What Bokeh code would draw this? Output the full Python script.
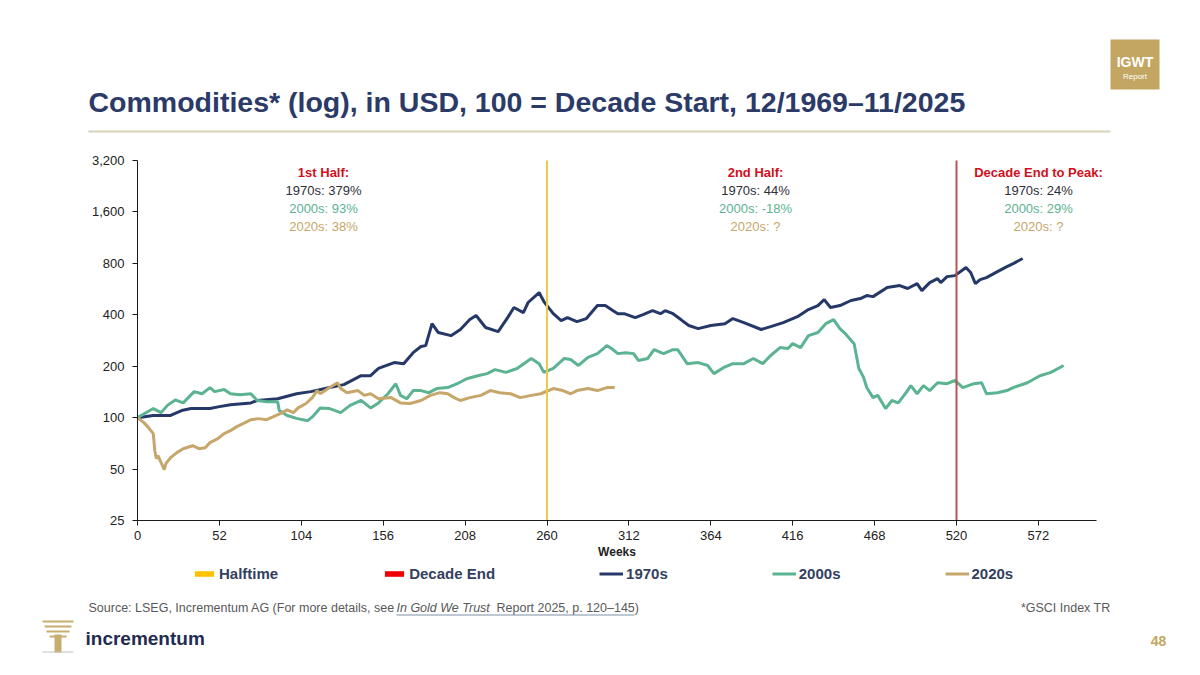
from bokeh.plotting import figure
from bokeh.models import Label, BoxAnnotation, Legend, LegendItem, FixedTicker, Range1d
from bokeh.embed import file_html
from bokeh.resources import INLINE

# ---------------- data ----------------
weeks_1970s = [0, 10, 21, 28, 34, 46, 52, 59, 72, 76,
               89, 101, 110, 122, 131, 142, 148, 153, 156, 163,
               169, 175, 180, 183, 187, 191, 199, 205, 211, 215,
               221, 229, 235, 239, 245, 248, 255, 258, 264, 269,
               273, 279, 285, 292, 297, 302, 305, 309, 316, 321,
               327, 332, 335, 340, 345, 350, 356, 364, 373, 378,
               385, 396, 402, 410, 419, 426, 432, 436, 440, 446,
               453, 459, 463, 467, 476, 484, 489, 495, 498, 503,
               508, 510, 514, 519, 526, 529, 532, 535, 539, 546,
               552, 556, 562]
vals_1970s = [100, 103, 103, 110, 113, 113, 116, 119, 122, 126,
              129, 138, 142, 150, 156, 176, 176, 194, 199, 210,
              207, 240, 261, 264, 355, 315, 302, 328, 375, 396,
              337, 319, 385, 441, 412, 472, 540, 478, 406, 370,
              385, 365, 380, 453, 453, 423, 406, 406, 385, 401,
              423, 406, 423, 406, 375, 346, 332, 346, 355, 380,
              360, 328, 341, 360, 390, 429, 453, 491, 441, 453,
              485, 498, 518, 511, 577, 593, 570, 609, 554, 617,
              651, 617, 669, 678, 756, 707, 609, 642, 660, 716,
              766, 797, 854]

weeks_2000s = [0, 4, 10, 15, 19, 24, 29, 36, 41, 46,
               49, 55, 59, 65, 72, 76, 82, 89, 90, 95,
               101, 108, 111, 116, 122, 129, 135, 142, 148, 153,
               159, 164, 167, 171, 175, 180, 185, 190, 197, 203,
               209, 216, 222, 227, 234, 241, 250, 255, 258, 264,
               271, 275, 280, 286, 292, 298, 301, 305, 310, 315,
               318, 324, 328, 334, 340, 343, 349, 356, 362, 366,
               372, 378, 385, 391, 397, 402, 408, 413, 416, 421,
               426, 432, 437, 442, 446, 450, 455, 458, 461, 463,
               467, 470, 475, 479, 483, 488, 491, 495, 499, 503,
               508, 514, 519, 524, 531, 536, 539, 546, 552, 556,
               565, 573, 580, 588]
vals_2000s = [100, 105, 113, 107, 118, 127, 122, 142, 138, 150,
              142, 146, 138, 136, 138, 126, 124, 124, 110, 103,
              99, 96, 101, 114, 113, 107, 118, 126, 114, 122,
              138, 158, 135, 129, 144, 144, 140, 148, 150, 158,
              169, 176, 181, 191, 184, 194, 222, 207, 184, 194,
              222, 219, 202, 225, 237, 264, 254, 237, 240, 237,
              216, 222, 250, 237, 250, 250, 207, 210, 202, 181,
              196, 207, 207, 222, 207, 231, 257, 254, 271, 257,
              302, 315, 355, 375, 332, 306, 271, 194, 172, 150,
              131, 135, 113, 126, 122, 140, 154, 138, 154, 144,
              160, 158, 165, 150, 158, 160, 138, 140, 144, 150,
              160, 176, 184, 202]

weeks_2020s = [0, 4, 7, 10, 11, 12, 13, 15, 17, 18,
               21, 25, 29, 35, 39, 43, 46, 51, 55, 59,
               63, 67, 72, 77, 82, 86, 92, 95, 99, 102,
               107, 111, 114, 116, 121, 127, 129, 133, 140, 144,
               148, 153, 161, 167, 173, 180, 186, 192, 197, 201,
               205, 211, 218, 224, 230, 237, 243, 250, 256, 264,
               270, 275, 279, 286, 292, 298, 303]
vals_2020s = [100, 93.5, 87.4, 80.6, 64, 57.5, 60, 54.5, 49.6, 53.8,
              58.3, 62.4, 65.8, 68.5, 65.8, 66.7, 71.4, 75.3, 80.6, 83.9,
              88.6, 92.2, 97.3, 98.7, 97.3, 101, 107, 111, 107, 114,
              121, 131, 144, 138, 148, 160, 148, 140, 144, 135,
              138, 129, 131, 122, 121, 126, 135, 140, 138, 131,
              126, 131, 135, 144, 140, 138, 131, 135, 138, 148,
              144, 138, 144, 148, 144, 150, 150]

halftime_week = 260
decade_end_week = 520
x_axis_end = 609

x_ticks = [0, 52, 104, 156, 208, 260, 312, 364, 416, 468, 520, 572]
y_ticks = [25, 50, 100, 200, 400, 800, 1600, 3200]
y_tick_labels = ["25", "50", "100", "200", "400", "800", "1,600", "3,200"]

series_names = ["1970s", "2000s", "2020s"]
first_half = ["1970s: 379%", "2000s: 93%", "2020s: 38%"]
second_half = ["1970s: 44%", "2000s: -18%", "2020s: ?"]
end_to_peak = ["1970s: 24%", "2000s: 29%", "2020s: ?"]

# ---------------- layout geometry (page pixels) ----------------
W, H = 1184, 659
PLOT_L, PLOT_T, PLOT_B = 137, 160, 520          # axis origin / top / bottom in page px
PX_PER_WEEK = 1.575
PX_PER_OCTAVE = (PLOT_B - PLOT_T) / 7.0

FONT = "Liberation Sans"
NAVY = "#253867"
GREEN = "#5BB391"
TAN = "#C6A66A"
TEXT_DARK = "#2F2F38"
RED_TXT = "#D0101C"
GOLD = "#C3A661"

x_start = -PLOT_L / PX_PER_WEEK
x_end = (W - PLOT_L) / PX_PER_WEEK
y_start = y_ticks[0] / 2 ** ((H - PLOT_B) / PX_PER_OCTAVE)
y_end = y_ticks[-1] * 2 ** (PLOT_T / PX_PER_OCTAVE)

p = figure(width=W, height=H, y_axis_type="log",
           x_range=Range1d(x_start, x_end), y_range=Range1d(y_start, y_end),
           output_backend="svg", toolbar_location=None, min_border=0)
p.outline_line_color = None
p.xgrid.visible = False
p.ygrid.visible = False
p.background_fill_color = "white"
p.border_fill_color = "white"

for ax in (p.xaxis[0], p.yaxis[0]):
    ax.axis_line_color = "#1A1A1A"
    ax.axis_line_width = 1
    ax.major_tick_line_color = "#1A1A1A"
    ax.major_tick_in = 0
    ax.major_tick_out = 5
    ax.minor_tick_line_color = None
    ax.major_label_text_font = FONT
    ax.major_label_text_font_size = "13px"
    ax.major_label_text_color = "#222222"

p.xaxis.fixed_location = y_ticks[0]
p.xaxis.bounds = (0, x_axis_end)
p.xaxis.ticker = FixedTicker(ticks=x_ticks)
p.xaxis.axis_label = "Weeks"
p.xaxis.axis_label_text_font = FONT
p.xaxis.axis_label_text_font_size = "12px"
p.xaxis.axis_label_text_font_style = "bold"
p.xaxis.axis_label_text_color = "#222222"
p.xaxis.axis_label_standoff = 2
p.xaxis.major_label_standoff = 5

p.yaxis.fixed_location = 0
p.yaxis.bounds = (y_ticks[0], y_ticks[-1])
p.yaxis.ticker = FixedTicker(ticks=y_ticks)
p.yaxis.major_label_overrides = {t: l for t, l in zip(y_ticks, y_tick_labels)}
p.yaxis.major_label_standoff = 8

# series
r70 = p.line(weeks_1970s, vals_1970s, line_color=NAVY, line_width=3)
r00 = p.line(weeks_2000s, vals_2000s, line_color=GREEN, line_width=3)
r20 = p.line(weeks_2020s, vals_2020s, line_color=TAN, line_width=3)

# vertical markers (line + zero-width filled quad used as legend swatch)
p.segment(x0=[halftime_week], x1=[halftime_week], y0=[y_ticks[0]], y1=[y_ticks[-1]],
          line_color="#EBCB45", line_width=2)
p.segment(x0=[decade_end_week], x1=[decade_end_week], y0=[y_ticks[0]], y1=[y_ticks[-1]],
          line_color="#C0504D", line_width=2)
r_half = p.quad(left=[halftime_week], right=[halftime_week], bottom=[y_ticks[0]], top=[y_ticks[-1]],
                fill_color="#FFC000", line_color=None)
r_end = p.quad(left=[decade_end_week], right=[decade_end_week], bottom=[y_ticks[0]], top=[y_ticks[-1]],
               fill_color="#F00000", line_color=None)

legend = Legend(items=[LegendItem(label="Halftime", renderers=[r_half]),
                       LegendItem(label="Decade End", renderers=[r_end]),
                       LegendItem(label=series_names[0], renderers=[r70]),
                       LegendItem(label=series_names[1], renderers=[r00]),
                       LegendItem(label=series_names[2], renderers=[r20])],
                orientation="horizontal", location=(192, H - 582),
                spacing=104, glyph_width=24, glyph_height=7, label_standoff=3,
                label_text_font=FONT, label_text_font_size="15px",
                label_text_font_style="bold", label_text_color="#33405E",
                border_line_color=None, background_fill_alpha=0,
                padding=0, margin=0)
p.add_layout(legend)


def lab(x, y, text, size, color, style="normal", align="left"):
    # x, y: page pixel position, y measured from the top
    p.add_layout(Label(x=x, y=H - y, x_units="screen", y_units="screen", text=text,
                       text_font=FONT, text_font_size=size, text_color=color,
                       text_font_style=style, text_align=align, text_baseline="middle"))


def box(l, r, t, b, color):
    p.add_layout(BoxAnnotation(left=l, right=r, top=H - t, bottom=H - b,
                               left_units="screen", right_units="screen",
                               top_units="screen", bottom_units="screen",
                               fill_color=color, fill_alpha=1, line_color=None))


# annotations in the plot
for cx, head, rows in ((323, "1st Half:", first_half),
                       (755, "2nd Half:", second_half),
                       (1038, "Decade End to Peak:", end_to_peak)):
    lab(cx, 172, head, "13px", RED_TXT, "bold", "center")
    for i, (txt, col) in enumerate(zip(rows, (TEXT_DARK, GREEN, TAN))):
        lab(cx, 190 + 18 * i, txt, "13px", col, "normal", "center")

# header
lab(88, 101, "Commodities* (log), in USD, 100 = Decade Start, 12/1969\u201311/2025",
    "28.5px", "#2B3A67", "bold")
box(88, 1110, 130, 132, "#D6D3B9")
box(1110, 1159, 39, 89, GOLD)
lab(1134.5, 61, "IGWT", "14px", "white", "bold", "center")
lab(1134.5, 76, "Report", "8px", "white", "normal", "center")

# footer
lab(88, 607, "Source: LSEG, Incrementum AG (For more details, see ", "12.5px", "#595959")
lab(396, 607, "In Gold We Trust", "12.5px", "#595959", "italic")
lab(496, 607, "Report 2025, p. 120\u2013145)", "12.5px", "#595959")
box(396, 634, 614, 615, "#7F8FA9")
lab(1110, 607, "*GSCI Index TR", "12.5px", "#595959", "normal", "right")

for k, (l, r) in enumerate(((42, 73), (44, 71), (46, 69), (49, 66))):
    box(l, r, 620 + 5 * k, 622 + 5 * k, "#C8AE6E")
box(54, 61, 634, 652, "#C8AE6E")
box(42, 73, 651, 652, "#BFBFBF")
lab(85, 638, "incrementum", "19px", "#1F2B4F", "bold")
lab(1158, 640, "48", "14px", GOLD, "bold", "center")

open("out.html", "w").write(file_html(p, INLINE))
